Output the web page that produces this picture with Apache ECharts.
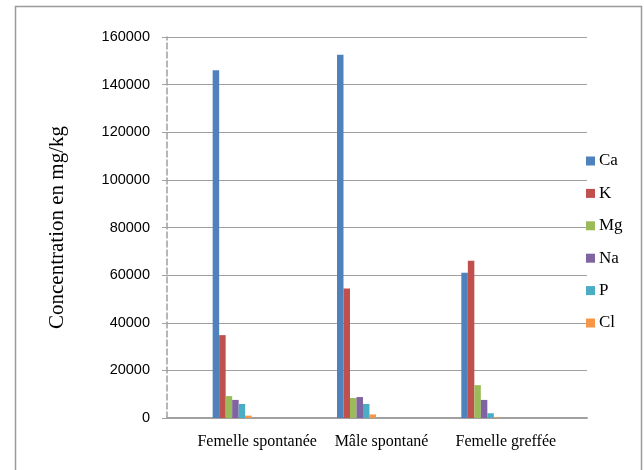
<!DOCTYPE html>
<html>
<head>
<meta charset="utf-8">
<script src="https://cdn.jsdelivr.net/npm/echarts@6/dist/echarts.min.js"></script>
<style>html,body{margin:0;padding:0;background:#fff}#c{width:644px;height:470px}</style>
</head>
<body>
<div id="c"></div>
<script>
const categories = ['Femelle spontanée', 'Mâle spontané', 'Femelle greffée'];
const seriesNames = ['Ca', 'K', 'Mg', 'Na', 'P', 'Cl'];
const Ca = [146000, 152500, 61000];
const K  = [34800, 54400, 66000];
const Mg = [9200, 8400, 13800];
const Na = [7600, 8800, 7600];
const P  = [5900, 5900, 2000];
const Cl = [1000, 1500, 300];
const yTicks = { min: 0, max: 160000, interval: 20000 };
const colors = ['#4F81BD', '#C0504D', '#9BBB59', '#8064A2', '#4BACC6', '#F79646'];

const values = [Ca, K, Mg, Na, P, Cl];
const serif = '"Liberation Serif", "Times New Roman", serif';
const sans = '"Liberation Sans", Arial, sans-serif';

const chart = echarts.init(document.getElementById('c'));
chart.setOption({
  animation: false,
  backgroundColor: '#fff',
  graphic: [{
    type: 'rect', left: 13, top: 4, shape: { width: 626, height: 490 },
    style: { fill: 'none', stroke: '#9a9a9a', lineWidth: 1.5 }, z: -1
  }],
  legend: {
    orient: 'vertical', left: 581, top: 147,
    itemWidth: 9, itemHeight: 9, itemGap: 14.4,
    icon: 'rect',
    textStyle: { fontFamily: serif, fontSize: 17, color: '#000', lineHeight: 18, padding: [0, 0, 0, -1] },
    data: seriesNames
  },
  grid: [
    { left: 167, right: 57, top: 37, bottom: 52 },
    { left: 170, right: 101, top: 37, bottom: 52 }
  ],
  xAxis: [
    { type: 'category', gridIndex: 0, data: categories,
      axisLine: { show: true, lineStyle: { color: '#a0a0a0', width: 2 } },
      axisTick: { show: false }, axisLabel: { show: false } },
    { type: 'category', gridIndex: 1, data: categories,
      axisLine: { show: false }, axisTick: { show: false },
      axisLabel: { interval: 0, fontFamily: serif, fontSize: 16, color: '#000', margin: 16, padding: [0, 0, 0, 50] } }
  ],
  yAxis: [
    { type: 'value', gridIndex: 0, min: yTicks.min, max: yTicks.max, interval: yTicks.interval,
      name: 'Concentration en mg/kg', nameLocation: 'middle', nameGap: 99,
      nameTextStyle: { fontFamily: serif, fontSize: 21, color: '#000' },
      axisLine: { show: true, lineStyle: { color: '#a0a0a0', type: 'dashed', width: 1.5 } },
      axisTick: { show: true, length: 5, lineStyle: { color: '#a0a0a0' } },
      axisLabel: { fontFamily: sans, fontSize: 14.5, color: '#000', margin: 17, formatter: v => String(v) },
      splitLine: { show: true, lineStyle: { color: '#a0a0a0', width: 1.2 } } },
    { type: 'value', gridIndex: 1, min: yTicks.min, max: yTicks.max, interval: yTicks.interval,
      show: false, splitLine: { show: false } }
  ],
  series: seriesNames.map((n, i) => ({
    name: n, type: 'bar', xAxisIndex: 1, yAxisIndex: 1,
    data: values[i], barWidth: 6.5, barGap: '0%',
    itemStyle: { color: colors[i] }
  }))
});
</script>
</body>
</html>
